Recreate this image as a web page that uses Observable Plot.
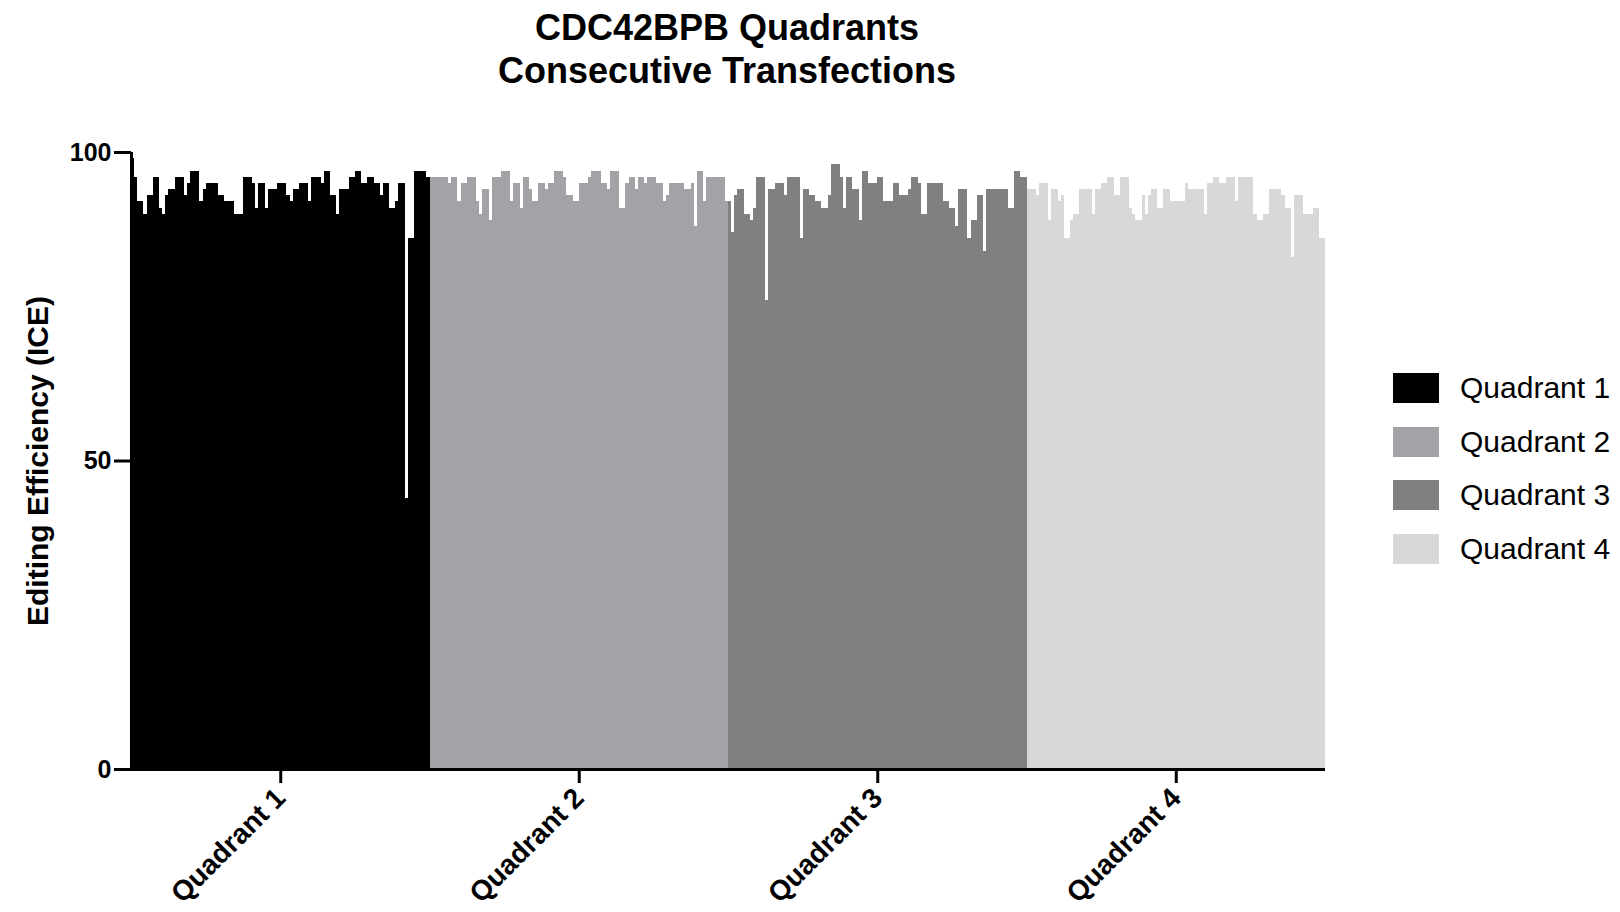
<!DOCTYPE html>
<html>
<head>
<meta charset="utf-8">
<script src="https://cdn.jsdelivr.net/npm/d3@7"></script>
<script src="https://cdn.jsdelivr.net/npm/@observablehq/plot@0.6"></script>
<style>
  body { margin: 0; background: #fff; font-family: "Liberation Sans", Arial, sans-serif; color: #000; }
  #wrap { position: relative; width: 1620px; height: 912px; overflow: hidden; }
  #title { height: 110px; width: 1454px; text-align: center; font-weight: bold; font-size: 36px; line-height: 43px; padding-top: 6px; box-sizing: border-box; }
  #ylabel { position: absolute; left: 38px; top: 461px; transform: translate(-50%, -50%) rotate(-90deg); font-weight: bold; font-size: 30px; white-space: nowrap; }
  #legend { position: absolute; left: 1393px; top: 361px; }
  .item { display: flex; align-items: center; height: 53.7px; }
  .sw { width: 46px; height: 30px; margin-right: 21px; }
  .lab { font-size: 30px; }
</style>
</head>
<body>
<div id="wrap">
  <div id="title">CDC42BPB Quadrants<br>Consecutive Transfections</div>
  <div id="chart"></div>
  <div id="ylabel">Editing Efficiency (ICE)</div>
  <div id="legend"></div>
</div>
<script>
const titleLines = ["CDC42BPB Quadrants", "Consecutive Transfections"];
const yLabel = "Editing Efficiency (ICE)";
const quadrants = ["Quadrant 1", "Quadrant 2", "Quadrant 3", "Quadrant 4"];
const colors = ["#000000", "#a3a2a7", "#808080", "#d8d8d8"];
const yTicks = [0, 50, 100];

const q1Values = [99, 96, 92, 92, 90, 93, 93, 96, 96, 91, 90, 93, 94, 94, 96, 96, 96, 93, 95, 97,
  97, 97, 92, 94, 95, 95, 95, 95, 93, 93, 92, 92, 92, 90, 90, 90, 96, 96, 96, 95,
  91, 95, 95, 91, 94, 94, 94, 95, 95, 95, 93,
  92, 94, 94, 95, 95, 95, 92, 96, 96, 96, 95, 97, 97, 93, 93, 90, 94, 94, 94, 96,
  96, 97, 97, 95, 95, 96, 96, 95, 95, 93, 95, 95, 91, 91, 92, 95, 95, 44, 86, 86,
  97, 97, 97, 97, 96];
const q2Values = [96, 96, 96, 96, 96, 96, 95, 96, 96, 92, 95, 95, 96, 96, 96, 92, 90, 94, 94, 89,
  96, 96, 96, 97, 97, 97, 92, 95, 95, 91, 96, 96, 94, 92, 92, 95, 95, 94, 95, 95,
  97, 97, 97, 96, 93, 93, 92, 92, 95, 95,
  95, 96, 97, 97, 97, 95, 95, 94, 97, 97, 97, 91, 91, 95, 96, 96, 94, 96, 96, 95,
  96, 96, 96, 95, 95, 92, 93, 95, 95, 95, 95, 95, 94, 94, 95, 88, 97, 97, 92, 96,
  96, 96, 96, 96, 96, 92];
const q3Values = [92, 87, 93, 94, 94, 90, 90, 89, 91, 96, 96, 96, 76, 94, 94, 95, 95, 95, 93, 96,
  96, 96, 96, 86, 94, 94, 93, 93, 92, 92, 91, 91, 93, 98, 98, 98, 96, 91, 96, 96,
  94, 94, 89, 97, 97, 95, 95, 95, 96, 96,
  92, 92, 92, 95, 95, 93, 93, 93, 94, 96, 96, 95, 90, 90, 95, 95, 95, 95, 95, 92,
  92, 91, 91, 88, 94, 94, 94, 86, 89, 89, 93, 93, 84, 94, 94, 94, 94, 94, 94, 94,
  91, 91, 97, 97, 96, 96];
const q4Values = [94, 94, 94, 93, 95, 95, 95, 89, 94, 94, 92, 93, 86, 86, 89, 90, 90, 94, 94, 94,
  94, 90, 94, 94, 95, 95, 96, 96, 93, 93, 96, 96, 96, 91, 90, 89, 89, 93, 90, 93,
  94, 94, 91, 91, 94, 94, 92, 92,
  92, 92, 92, 95, 94, 94, 94, 94, 94, 90, 95, 95, 96, 96, 95, 95, 96, 96, 96, 92,
  96, 96, 96, 96, 96, 90, 89, 89, 90, 90, 94, 94, 94, 94, 93, 91, 91, 83, 93, 93,
  93, 90, 90, 90, 91, 91, 86, 86];

const series = [q1Values, q2Values, q3Values, q4Values];
const data = [];
let offset = 0;
const centers = [];
series.forEach((vals, q) => {
  vals.forEach((v, j) => data.push({ i: offset + j, v, quad: quadrants[q] }));
  centers.push(offset + vals.length / 2);
  offset += vals.length;
});
const total = offset;

const font = '"Liberation Sans", Arial, sans-serif';
const chart = Plot.plot({
  width: 1620,
  height: 802,
  marginTop: 42,
  marginBottom: 143,
  marginLeft: 131,
  marginRight: 295,
  style: { fontFamily: font, background: "transparent", color: "#000" },
  x: { domain: [0, total], axis: null },
  y: { domain: [0, 100], axis: null },
  color: { domain: quadrants, range: colors },
  marks: [
    Plot.rectY(data, { x1: "i", x2: d => d.i + 1, y: "v", fill: "quad", shapeRendering: "crispEdges" }),
    Plot.ruleX([0], { y1: 0, y2: 100, stroke: "#000", strokeWidth: 3 }),
    Plot.ruleY([0], { stroke: "#000", strokeWidth: 3 }),
    Plot.axisY({ ticks: yTicks, tickSize: 17, tickPadding: 3, strokeWidth: 3, fontSize: 25, fontWeight: "bold", label: null }),
    Plot.axisX({ ticks: centers, tickFormat: d => quadrants[centers.indexOf(d)], tickSize: 14, tickPadding: 10, tickRotate: -45, strokeWidth: 3, fontSize: 28, fontWeight: "bold", label: null })
  ]
});
document.getElementById("chart").appendChild(chart);

document.getElementById("title").innerHTML = titleLines.join("<br>");
document.getElementById("ylabel").textContent = yLabel;
const legend = document.getElementById("legend");
quadrants.forEach((q, k) => {
  const item = document.createElement("div");
  item.className = "item";
  const sw = document.createElement("div");
  sw.className = "sw";
  sw.style.background = colors[k];
  const lab = document.createElement("span");
  lab.className = "lab";
  lab.textContent = q;
  item.appendChild(sw);
  item.appendChild(lab);
  legend.appendChild(item);
});
</script>
</body>
</html>
